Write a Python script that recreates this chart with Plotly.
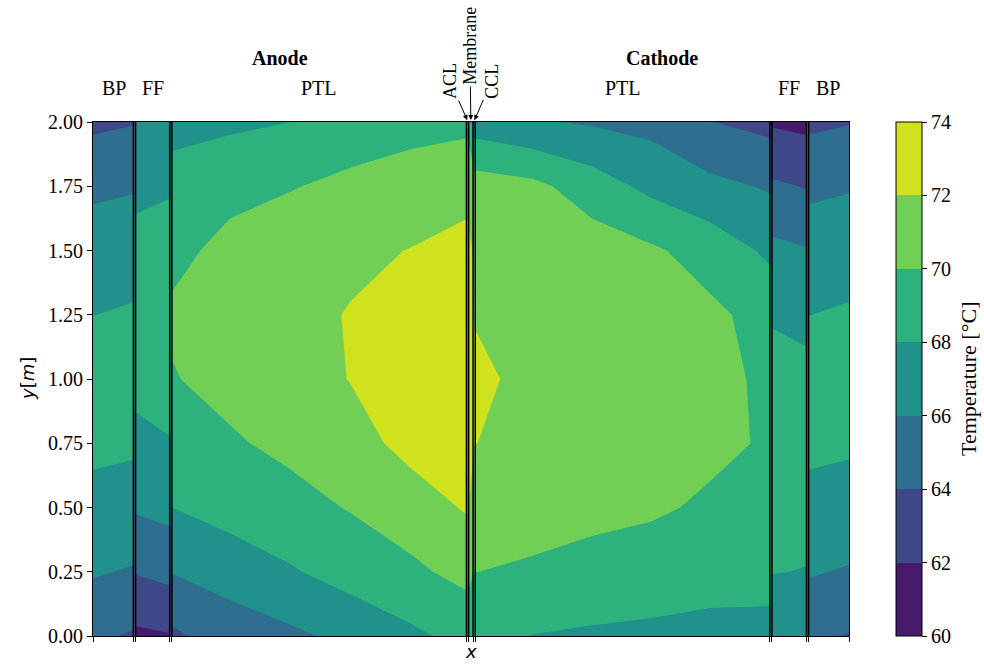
import numpy as np
import plotly.graph_objects as go

# ---------------- data ----------------
y_nodes = [0.0, 0.25, 0.5, 0.75, 1.0, 1.25, 1.5, 1.75, 2.0]

layer_names = ["BP", "FF", "PTL", "ACL", "Membrane", "CCL", "PTL", "FF", "BP"]
layer_edges = [0.0, 41.5, 77.85, 374.7, 375.7, 380.3, 381.3, 678.15, 714.85, 756.3]
side_names = ["Anode", "Cathode"]

levels_start, levels_end, levels_step = 60, 74, 2
colorbar_ticks = [60, 62, 64, 66, 68, 70, 72, 74]
band_colors = ["#471a6c", "#3f4888", "#2e6e8e", "#21918c", "#2db27d", "#72cf56", "#d0e11e"]

# temperature columns (each column: T at y_nodes, bottom -> top)
anode_bp_x = [0.0, 41.5]
anode_bp_T = [
    [64.3, 66.2, 67.3, 68.5, 69.0, 67.98, 67.0, 65.6, 63.6],
    [63.8, 65.8, 67.7, 68.1, 69.1, 68.2, 67.2, 65.85, 63.9],
]
anode_ff_x = [41.5, 77.85]
anode_ff_T = [
    [61.6, 64.1, 66.2, 67.5, 68.5, 69.0, 68.5, 67.6, 66.8],
    [61.9, 64.6, 66.6, 67.9, 68.9, 69.4, 68.9, 67.8, 66.9],
]
anode_ptl_x = [77.85, 137.0, 197.0, 257.0, 317.0, 374.7]
anode_ptl_T = [
    [63.6, 66.05, 67.98, 69.1, 69.9, 70.2, 69.6, 68.7, 67.4],
    [65.0, 66.8, 68.8, 69.8, 70.5, 70.8, 70.4, 69.6, 67.6],
    [65.6, 67.8, 69.4, 70.4, 71.1, 71.4, 71.0, 69.9, 68.0],
    [66.5, 68.8, 70.1, 71.2, 72.05, 72.1, 71.6, 70.4, 69.0],
    [67.6, 69.6, 71.0, 72.6, 73.0, 72.9, 72.05, 70.8, 69.4],
    [68.6, 70.6, 72.2, 73.2, 73.6, 73.4, 72.5, 71.5, 69.5],
]
cathode_ptl_x = [381.3, 440.0, 499.0, 558.0, 617.0, 678.15]
cathode_ptl_T = [
    [68.6, 70.02, 71.0, 72.05, 72.4, 71.9, 71.8, 71.0, 67.0],
    [67.95, 69.8, 70.6, 71.2, 71.5, 71.5, 71.1, 70.5, 66.2],
    [67.7, 69.5, 70.4, 71.0, 71.3, 71.2, 71.0, 69.0, 65.8],
    [67.5, 69.3, 70.2, 70.6, 71.0, 70.9, 70.3, 67.5, 65.4],
    [67.3, 68.9, 69.8, 70.3, 70.45, 70.4, 69.2, 66.5, 64.05],
    [67.3, 68.8, 69.5, 69.85, 69.7, 69.3, 67.6, 65.8, 63.4],
]
cathode_ff_x = [678.15, 714.85]
cathode_ff_T = [
    [66.8, 68.05, 68.6, 69.0, 68.8, 67.8, 66.5, 64.3, 61.8],
    [66.6, 67.95, 68.5, 68.9, 68.6, 67.4, 66.1, 63.9, 61.5],
]
cathode_bp_x = [714.85, 756.3]
cathode_bp_T = [
    [64.3, 66.2, 67.3, 68.5, 69.0, 67.98, 67.0, 65.6, 63.6],
    [63.9, 65.8, 67.7, 68.1, 69.1, 68.2, 67.2, 65.85, 63.9],
]
# catalyst layers + membrane: between anode PTL edge and cathode PTL edge
mea_x = [374.7, 381.3]
mea_T = [anode_ptl_T[-1], cathode_ptl_T[0]]

# ---------------- figure ----------------
SERIF = "Liberation Serif"
SANS = "DejaVu Sans"

n = len(band_colors)
colorscale = []
for k, c in enumerate(band_colors):
    colorscale.append([k / n, c])
    colorscale.append([(k + 1) / n, c])

fig = go.Figure()

layers = [
    (anode_bp_x, anode_bp_T), (anode_ff_x, anode_ff_T), (anode_ptl_x, anode_ptl_T),
    (mea_x, mea_T),
    (cathode_ptl_x, cathode_ptl_T), (cathode_ff_x, cathode_ff_T), (cathode_bp_x, cathode_bp_T),
]
for i, (xs, cols) in enumerate(layers):
    z = np.array(cols).T
    fig.add_trace(go.Contour(
        x=xs, y=y_nodes, z=z,
        zmin=levels_start, zmax=levels_end, autocontour=False,
        contours=dict(start=levels_start, end=levels_end, size=levels_step,
                      coloring="fill", showlines=False),
        line=dict(width=0, smoothing=0),
        colorscale=colorscale,
        showscale=(i == 0),
        colorbar=dict(
            x=(896 - 93) / 756, xanchor="left", xpad=0, ypad=0,
            y=0.5, yanchor="middle", len=1, lenmode="fraction",
            thickness=26, thicknessmode="pixels",
            outlinecolor="black", outlinewidth=1,
            tickvals=colorbar_ticks, ticks="outside", ticklen=5, tickcolor="black",
            tickfont=dict(family=SERIF, size=20, color="black"),
        ),
        hoverinfo="skip",
    ))

# separator lines (double lines at the layer boundaries)
gap = 1.1
inner = [layer_edges[1], layer_edges[2], layer_edges[3], layer_edges[6], layer_edges[7], layer_edges[8]]
line_pos = []
for e in inner:
    line_pos += [e - gap, e + gap]
shapes = []
for xp in line_pos:
    shapes.append(dict(type="line", xref="x", yref="y", x0=xp, x1=xp, y0=0, y1=2,
                       line=dict(color="black", width=1.5)))

tickvals_x = [layer_edges[0]] + line_pos + [layer_edges[-1]]

annotations = []
centers = [(layer_edges[i] + layer_edges[i + 1]) / 2 for i in range(len(layer_names))]
for i, name in enumerate(layer_names):
    if name in ("ACL", "Membrane", "CCL"):
        continue
    annotations.append(dict(x=centers[i], y=1.066, xref="x", yref="paper", text=name,
                            showarrow=False, font=dict(family=SERIF, size=20, color="black"),
                            xanchor="center", yanchor="middle"))

arrow_offsets = {"ACL": (-18, -41), "Membrane": (-1, -76), "CCL": (18, -41)}
for i, name in enumerate(layer_names):
    if name not in arrow_offsets:
        continue
    ax, ay = arrow_offsets[name]
    annotations.append(dict(x=centers[i], y=2.0, xref="x", yref="y", text=name,
                            textangle=-90, showarrow=True, ax=ax, ay=ay,
                            arrowhead=2, arrowsize=1, arrowwidth=1, arrowcolor="black",
                            standoff=2,
                            font=dict(family=SERIF, size=18, color="black")))

anode_center = (layer_edges[0] + layer_edges[3]) / 2
cathode_center = (layer_edges[6] + layer_edges[-1]) / 2
for name, cx in zip(side_names, [anode_center, cathode_center]):
    annotations.append(dict(x=cx, y=1.1245, xref="x", yref="paper", text="<b>%s</b>" % name,
                            showarrow=False, font=dict(family=SERIF, size=20, color="black"),
                            xanchor="center", yanchor="middle"))

annotations.append(dict(x=0.5, y=-(664 - 636) / 514, xref="paper", yref="paper", text="<i>x</i>",
                        showarrow=False, font=dict(family=SANS, size=18, color="black"),
                        xanchor="center", yanchor="bottom"))
annotations.append(dict(x=(27 - 93) / 756, y=0.5, xref="paper", yref="paper",
                        text="<i>y</i>[<i>m</i>]", textangle=-90,
                        showarrow=False, font=dict(family=SANS, size=18, color="black"),
                        xanchor="center", yanchor="middle"))
# colorbar label
annotations.append(dict(x=(968 - 93) / 756, y=0.5, xref="paper", yref="paper",
                        text="Temperature [°C]", textangle=-90,
                        showarrow=False, font=dict(family=SERIF, size=22, color="black"),
                        xanchor="center", yanchor="middle"))

fig.update_layout(
    width=984, height=664,
    margin=dict(l=93, r=135, t=122, b=28, autoexpand=False),
    paper_bgcolor="white", plot_bgcolor="white",
    font=dict(family=SERIF, size=20, color="black"),
    shapes=shapes, annotations=annotations,
    showlegend=False,
    xaxis=dict(range=[layer_edges[0], layer_edges[-1]], showgrid=False, zeroline=False,
               tickvals=tickvals_x, ticks="outside", ticklen=5, tickcolor="black",
               showticklabels=False, showline=True, mirror=True, linecolor="black", linewidth=1),
    yaxis=dict(range=[0, 2], showgrid=False, zeroline=False,
               tickvals=[0, 0.25, 0.5, 0.75, 1.0, 1.25, 1.5, 1.75, 2.0], tickformat=".2f",
               ticks="outside", ticklen=5, tickcolor="black",
               tickfont=dict(family=SERIF, size=20, color="black"),
               showline=True, mirror=True, linecolor="black", linewidth=1),
)

fig.write_html("out.html")
